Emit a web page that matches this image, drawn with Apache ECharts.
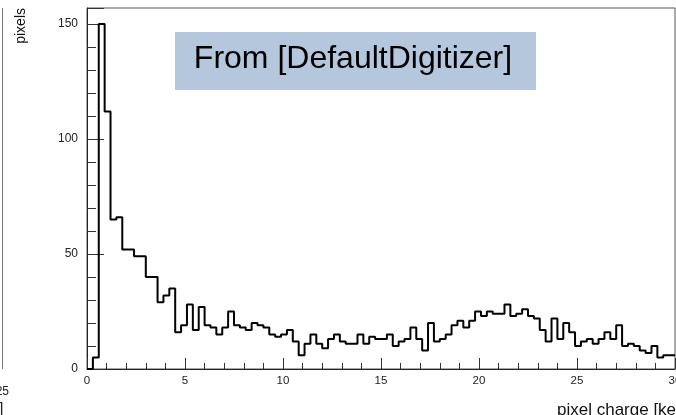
<!DOCTYPE html>
<html>
<head>
<meta charset="utf-8">
<script src="https://cdn.jsdelivr.net/npm/echarts@6/dist/echarts.min.js"></script>
<style>
html,body{margin:0;padding:0;background:#fff;}
#chart{width:676px;height:415px;}
</style>
</head>
<body>
<div id="chart"></div>
<script>
// ---- data ----
const binWidth = 0.3;           // ke per bin, 100 bins over 0..30
const counts = [
  0, 5, 150, 112, 65, 66, 52, 52, 49, 49,
  40, 40, 29, 32, 35, 16, 19, 28, 17, 27,
  19, 18, 15, 18, 25, 19, 18, 17, 20, 19,
  18, 15, 14, 15, 17, 12, 6, 11, 15, 11,
  9, 13, 15, 12, 11, 11, 15, 11, 14, 13,
  13, 15, 10, 12, 13, 18, 13, 8, 20, 12,
  13, 15, 19, 21, 18, 21, 25, 23, 25, 24,
  24, 28, 23, 24, 26, 23, 22, 17, 12, 22,
  13, 20, 16, 10, 12, 13, 11, 13, 16, 13,
  19, 10, 11, 10, 8, 7, 10, 5, 6, 6
];
const xTicks = [0, 5, 10, 15, 20, 25, 30];
const yTicks = [0, 50, 100, 150];
const xTitle = 'pixel charge [ke]';
const yTitle = 'pixels';
const boxTitle = 'From [DefaultDigitizer]';

// histogram as a stepped line through bin edges
const stepData = counts.map((c, i) => [+(i * binWidth).toFixed(4), c]);
stepData.push([counts.length * binWidth, counts[counts.length - 1]]);

const FONT = "'Liberation Sans', Arial, Helvetica, sans-serif";
const chart = echarts.init(document.getElementById('chart'), null, {renderer: 'canvas'});

chart.setOption({
  animation: false,
  backgroundColor: '#fff',
  grid: {left: 87, right: 1, top: 8, bottom: 46, containLabel: false, outerBoundsMode: 'none',
    show: true, borderColor: '#555', borderWidth: 1, backgroundColor: 'transparent'},
  xAxis: {
    type: 'value', min: xTicks[0], max: xTicks[xTicks.length - 1], interval: 5,
    axisLine: {show: true, lineStyle: {color: '#222', width: 1}},
    axisTick: {show: true, inside: true, length: 11, lineStyle: {color: '#333'}},
    minorTick: {show: true, splitNumber: 5, length: 6, lineStyle: {color: '#333'}},
    axisLabel: {margin: 6, fontSize: 11.5, color: '#222', fontFamily: FONT, hideOverlap: false,
      formatter: v => (xTicks.indexOf(v) >= 0 ? String(v) : '')},
    splitLine: {show: false}
  },
  yAxis: [
    {
      type: 'value', min: 0, max: 157, interval: 50, position: 'left',
      axisLine: {show: true, lineStyle: {color: '#222', width: 1}},
      axisTick: {show: true, inside: true, length: 17, lineStyle: {color: '#333'}},
      axisLabel: {margin: 9, fontSize: 12, color: '#222', fontFamily: FONT,
        formatter: v => (yTicks.indexOf(v) >= 0 ? String(v) : '')},
      splitLine: {show: false}
    },
    {
      type: 'value', min: 0, max: 157, interval: 10, position: 'left', offset: 0,
      axisLine: {show: false},
      axisTick: {show: true, inside: true, length: 9, lineStyle: {color: '#333'}},
      axisLabel: {show: false},
      splitLine: {show: false}
    }
  ],
  series: [{
    type: 'line', yAxisIndex: 0, step: 'end', data: stepData,
    showSymbol: false, symbol: 'none',
    lineStyle: {color: '#000', width: 2}, clip: true, silent: true
  }],
  graphic: [
    // partial frame of the neighbouring plot on the left
    {type: 'line', shape: {x1: 2.5, y1: 8, x2: 2.5, y2: 369}, style: {stroke: '#777', lineWidth: 1}, silent: true},
    {type: 'text', x: 9, y: 392, style: {text: '25', fontSize: 12, fontFamily: FONT, fill: '#222', align: 'right', verticalAlign: 'middle'}, silent: true},
    {type: 'text', x: -1, y: 410, style: {text: ']', fontSize: 16, fontFamily: FONT, fill: '#222', align: 'left', verticalAlign: 'middle'}, silent: true},
    // axis titles
    {type: 'text', x: 21, y: 8, rotation: Math.PI / 2,
      style: {text: yTitle, fontSize: 14, fontFamily: FONT, fill: '#111', align: 'right', verticalAlign: 'middle'}, silent: true},
    {type: 'text', x: 557, y: 410,
      style: {text: xTitle, fontSize: 17, fontFamily: FONT, fill: '#111', align: 'left', verticalAlign: 'middle'}, silent: true},
    // title box
    {type: 'rect', shape: {x: 175, y: 32, width: 361, height: 58}, style: {fill: '#b4c7dd'}, silent: true},
    {type: 'text', x: 353, y: 59,
      style: {text: boxTitle, fontSize: 32, fontFamily: FONT, fill: '#000', align: 'center', verticalAlign: 'middle'}, silent: true}
  ]
});
</script>
</body>
</html>
